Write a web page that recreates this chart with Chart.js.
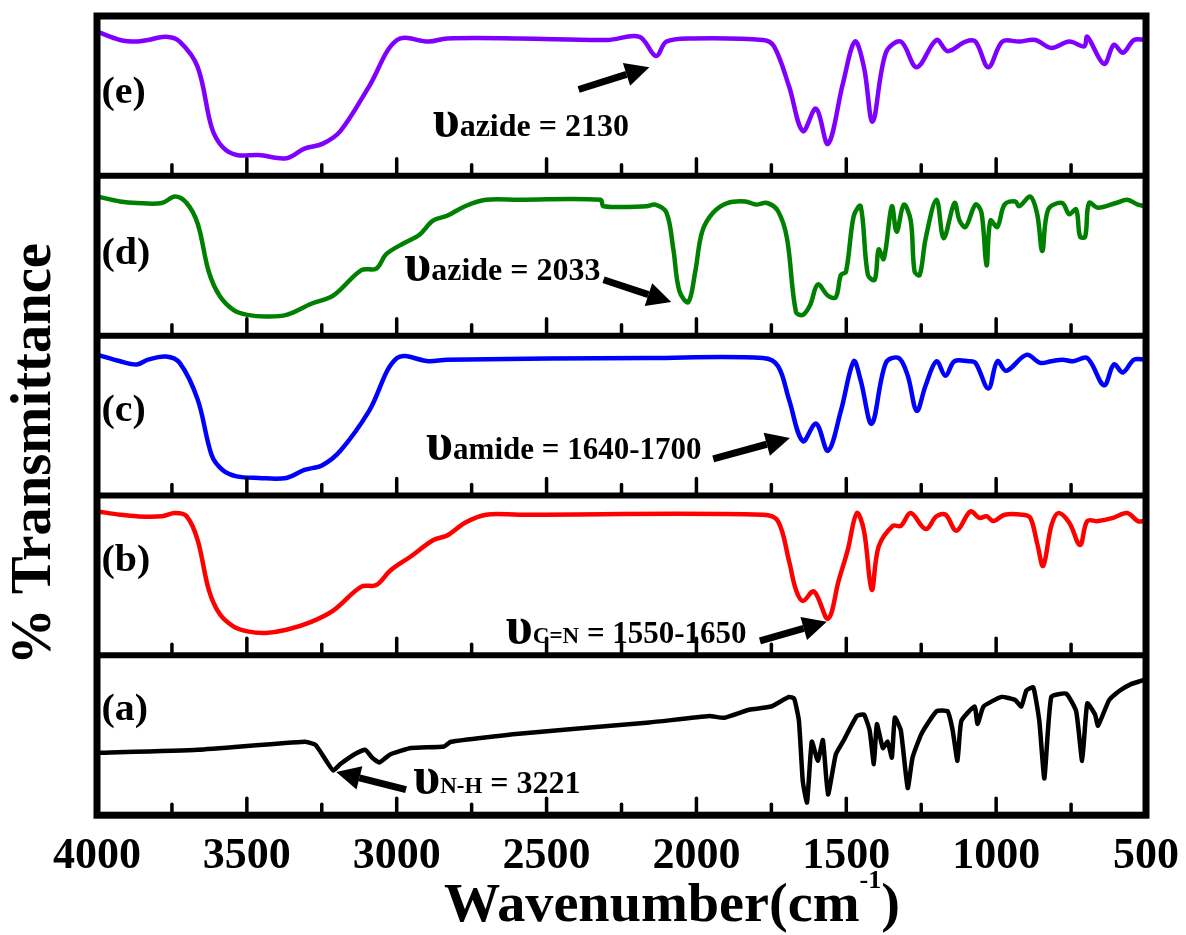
<!DOCTYPE html>
<html>
<head>
<meta charset="utf-8">
<script src="https://cdn.jsdelivr.net/npm/chart.js@4/dist/chart.umd.min.js"></script>
<style>
html, body { margin: 0; padding: 0; background: #fff; }
</style>
</head>
<body>
<canvas id="myChart" width="1186" height="935"></canvas>
<script>
// FTIR spectra, wavenumber (cm-1) vs relative % transmittance inside each panel
const xTicks = [4000, 3500, 3000, 2500, 2000, 1500, 1000, 500]

const waveE = [3997,3923,3867,3830,3770,3724,3664,3617,3581,3534,3461,3368,3308,3248,3188,3092,2999,2892,2832,2593,2297,2190,2135,2100,2017,1778,1741,1691,1645,1601,1561,1511,1471,1441,1412,1368,1318,1265,1199,1162,1102,1069,1026,979,923,869,816,756,706,696,640,607,577,540,503]
const transE = [90,85,84,85,87,84,68,30,18,13,13,11,17,20,28,56,85,84,86,86,85,87,75,84,86,85,81,56,28,42,20,58,84,68,34,77,84,68,85,78,84,84,68,84,84,85,80,84,81,87,70,82,77,85,85]

const waveD = [3997,3923,3867,3784,3740,3701,3664,3627,3591,3544,3498,3438,3368,3285,3212,3118,3068,3035,2975,2925,2879,2832,2772,2702,2593,2320,2310,2167,2137,2100,2077,2057,2027,2004,1981,1944,1897,1837,1801,1764,1728,1698,1668,1645,1621,1595,1561,1535,1518,1501,1475,1452,1428,1405,1392,1375,1348,1332,1308,1285,1272,1255,1235,1199,1175,1139,1122,1102,1069,1049,1032,1019,996,972,936,923,886,863,846,826,780,756,733,720,703,690,660,600,563,527,503]
const transD = [87,84,83,83,87,83,70,40,25,16,13,12,13,20,25,41,42,51,58,63,72,75,81,85,85,85,81,81,82,77,54,28,21,40,65,77,83,84,82,83,78,61,15,13,19,32,25,24,38,40,75,81,38,35,54,48,81,65,82,72,40,38,61,85,61,83,72,68,82,77,44,72,68,82,84,81,87,76,53,79,83,76,79,62,62,83,80,83,85,82,81]

const waveC = [3997,3923,3867,3830,3770,3724,3664,3617,3581,3534,3461,3368,3308,3248,3188,3092,2999,2892,2832,2157,1778,1728,1691,1645,1601,1561,1518,1475,1452,1415,1368,1325,1295,1265,1235,1199,1169,1139,1092,1069,1026,996,966,899,853,816,779,743,696,640,607,577,540,503]
const transC = [88,84,82,85,87,83,60,25,16,12,11,11,16,19,28,53,86,84,85,86,86,81,60,34,45,28,53,84,72,45,83,86,75,53,69,84,75,84,84,83,67,84,78,88,83,84,85,84,86,69,82,77,85,85]

const waveB = [3997,3923,3867,3784,3740,3701,3664,3627,3591,3544,3498,3438,3368,3285,3212,3118,3068,3022,2952,2879,2832,2772,2702,2593,1778,1728,1691,1668,1645,1608,1561,1525,1495,1465,1441,1415,1392,1345,1318,1285,1235,1199,1169,1132,1086,1056,1032,1009,972,913,886,863,843,816,793,756,720,696,660,610,563,527,503]
const transB = [90,88,87,87,89,87,72,41,26,18,15,14,16,21,28,43,44,53,62,72,75,83,88,88,88,84,59,41,34,40,23,47,66,89,78,41,68,81,81,89,79,87,88,78,90,86,87,84,88,88,86,70,56,81,89,83,69,84,84,86,89,84,84]

const waveA = [3997,3664,3308,3271,3235,3212,3188,3142,3105,3082,3058,3022,2952,2842,2819,2593,2157,1957,1907,1824,1751,1691,1674,1658,1645,1631,1615,1595,1578,1561,1535,1511,1465,1441,1422,1408,1398,1378,1362,1348,1338,1318,1295,1279,1249,1199,1162,1145,1129,1116,1072,1062,1042,982,936,916,899,876,856,839,816,766,733,713,696,670,660,623,587,550,517,500]
const transA = [39,41,46,44,34,28,32,38,41,36,33,38,42,43,46,51,58,62,61,66,68,74,73,59,21,8,46,34,47,13,38,46,62,63,53,32,57,42,46,36,61,53,17,36,51,65,65,53,34,59,68,57,68,74,72,68,78,80,59,23,74,76,65,34,70,63,56,72,78,82,84,85]

const panelNames = ['(e)', '(d)', '(c)', '(b)', '(a)']

const FONT = '"Liberation Serif", "Times New Roman", serif'
const SX = 1.0

const panels = [
    { id: 'yE', name: panelNames[0], color: 'rgb(128,0,255)', wave: waveE, trans: transE, labelV: 52 },
    { id: 'yD', name: panelNames[1], color: 'rgb(0,128,0)', wave: waveD, trans: transD, labelV: 51 },
    { id: 'yC', name: panelNames[2], color: 'rgb(0,0,255)', wave: waveC, trans: transC, labelV: 53 },
    { id: 'yB', name: panelNames[3], color: 'rgb(255,0,0)', wave: waveB, trans: transB, labelV: 59 },
    { id: 'yA', name: panelNames[4], color: 'rgb(0,0,0)', wave: waveA, trans: transA, labelV: 66 }
]

const notes = [
    { axis: 'yE', wn: 2880, v: 25, parts: [{ t: 'υ', size: 52 }, { t: 'azide = 2130', size: 32 }], arrow: [2393, 54, 2157, 68] },
    { axis: 'yD', wn: 2975, v: 35, parts: [{ t: 'υ', size: 52 }, { t: 'azide = 2033', size: 32 }], arrow: [2310, 35, 2084, 21] },
    { axis: 'yC', wn: 2902, v: 23, parts: [{ t: 'υ', size: 52 }, { t: 'amide = 1640-1700', size: 31 }], arrow: [1944, 23, 1688, 36] },
    { axis: 'yB', wn: 2636, v: 7.5, parts: [{ t: 'υ', size: 52 }, { t: 'C=N', size: 23 }, { t: ' = 1550-1650', size: 31 }], arrow: [1788, 9, 1565, 21] },
    { axis: 'yA', wn: 2945, v: 14, parts: [{ t: 'υ', size: 52 }, { t: 'N-H', size: 23 }, { t: ' = 3221', size: 32 }], arrow: [2969, 16, 3202, 27] }
]

function drawRuns(ctx, parts, x, y, sx) {
    ctx.save()
    ctx.translate(x, y)
    ctx.scale(sx, 1)
    let cx = 0
    for (const p of parts) {
        ctx.font = 'bold ' + p.size + 'px ' + FONT
        ctx.fillText(p.t, cx, p.dy || 0)
        cx += ctx.measureText(p.t).width
    }
    ctx.restore()
}

function runsWidth(ctx, parts) {
    let w = 0
    for (const p of parts) {
        ctx.font = 'bold ' + p.size + 'px ' + FONT
        w += ctx.measureText(p.t).width
    }
    return w
}

function drawArrow(ctx, x1, y1, x2, y2) {
    const ang = Math.atan2(y2 - y1, x2 - x1)
    const headLen = 24, headW = 12
    const bx = x2 - headLen * Math.cos(ang)
    const by = y2 - headLen * Math.sin(ang)
    ctx.beginPath()
    ctx.lineWidth = 7
    ctx.lineCap = 'butt'
    ctx.moveTo(x1, y1)
    ctx.lineTo(bx, by)
    ctx.stroke()
    ctx.beginPath()
    ctx.moveTo(x2, y2)
    ctx.lineTo(bx + headW * Math.sin(ang), by - headW * Math.cos(ang))
    ctx.lineTo(bx - headW * Math.sin(ang), by + headW * Math.cos(ang))
    ctx.closePath()
    ctx.fill()
}

const decor = {
    id: 'decor',
    afterDatasetsDraw(chart) {
        const ctx = chart.ctx
        const area = chart.chartArea
        const xs = chart.scales.x
        ctx.save()
        ctx.strokeStyle = '#000'
        ctx.fillStyle = '#000'

        // inner ticks of every panel
        ctx.lineWidth = 3.5
        ctx.lineCap = 'round'
        for (const p of panels) {
            const ys = chart.scales[p.id]
            for (let wn = 750; wn <= 3750; wn += 250) {
                const x = xs.getPixelForValue(wn)
                const len = wn % 500 === 0 ? 15 : 9
                ctx.beginPath()
                ctx.moveTo(x, ys.bottom - 2)
                ctx.lineTo(x, ys.bottom - 2 - len)
                ctx.stroke()
            }
        }

        // panel separators
        ctx.lineWidth = 6
        ctx.lineCap = 'butt'
        for (let i = 1; i < panels.length; i++) {
            const y = chart.scales[panels[i].id].top
            ctx.beginPath()
            ctx.moveTo(area.left, y)
            ctx.lineTo(area.right, y)
            ctx.stroke()
        }

        // frame
        ctx.lineWidth = 7
        ctx.strokeRect(area.left, area.top, area.right - area.left, area.bottom - area.top)

        // panel letters
        ctx.textAlign = 'left'
        ctx.textBaseline = 'middle'
        for (const p of panels) {
            const ys = chart.scales[p.id]
            drawRuns(ctx, [{ t: p.name, size: 38 }], xs.getPixelForValue(3985), ys.getPixelForValue(p.labelV), 1.05)
        }

        // annotations
        ctx.textBaseline = 'alphabetic'
        for (const n of notes) {
            const ys = chart.scales[n.axis]
            drawRuns(ctx, n.parts, xs.getPixelForValue(n.wn), ys.getPixelForValue(n.v), SX)
            const a = n.arrow
            drawArrow(ctx, xs.getPixelForValue(a[0]), ys.getPixelForValue(a[1]), xs.getPixelForValue(a[2]), ys.getPixelForValue(a[3]))
        }

        // x title
        const xt = [{ t: 'Wavenumber(cm', size: 54 }, { t: '-1', size: 25, dy: -33 }, { t: ')', size: 54 }]
        const xw = runsWidth(ctx, xt)
        const xsx = 456 / xw
        drawRuns(ctx, xt, 672 - 456 / 2, 921, xsx)

        // y title
        ctx.save()
        ctx.translate(36, 454)
        ctx.rotate(-Math.PI / 2)
        ctx.textAlign = 'center'
        ctx.textBaseline = 'middle'
        ctx.font = 'bold 56px ' + FONT
        const yw = ctx.measureText('% Transmittance').width
        ctx.scale(422 / yw, 1)
        ctx.fillText('% Transmittance', 0, 0)
        ctx.restore()

        ctx.restore()
    }
}

const datasets = panels.map(p => ({
    label: p.name,
    data: p.wave.map((w, i) => ({ x: w, y: p.trans[i] })),
    yAxisID: p.id,
    borderColor: p.color,
    borderWidth: 4.5,
    pointRadius: 0,
    tension: p.id === 'yA' ? 0.15 : 0.35,
    fill: false
}))

const yScale = () => ({
    type: 'linear',
    position: 'left',
    stack: 'ir',
    stackWeight: 1,
    min: 0,
    max: 100,
    ticks: { display: false },
    grid: { display: false },
    border: { display: false }
})

// order in stack: bottom panel first
const scales = {
    x: {
        type: 'linear',
        reverse: true,
        min: 500,
        max: 4000,
        afterBuildTicks: axis => { axis.ticks = xTicks.map(v => ({ value: v })) },
        ticks: {
            color: '#000',
            font: { family: FONT, size: 44, weight: 'bold' },
            padding: 7,
            maxRotation: 0,
            autoSkip: false,
            callback: v => String(v)
        },
        grid: { display: false },
        border: { display: false }
    },
    yA: yScale(),
    yB: yScale(),
    yC: yScale(),
    yD: yScale(),
    yE: yScale()
}

const ctx = document.getElementById('myChart')
new Chart(ctx, {
    type: 'line',
    data: { datasets: datasets },
    options: {
        responsive: false,
        animation: false,
        devicePixelRatio: 1,
        layout: { padding: { left: 89, right: 36, top: 16, bottom: 45 } },
        plugins: { legend: { display: false }, tooltip: { enabled: false } },
        scales: scales
    },
    plugins: [decor]
})
</script>
</body>
</html>
